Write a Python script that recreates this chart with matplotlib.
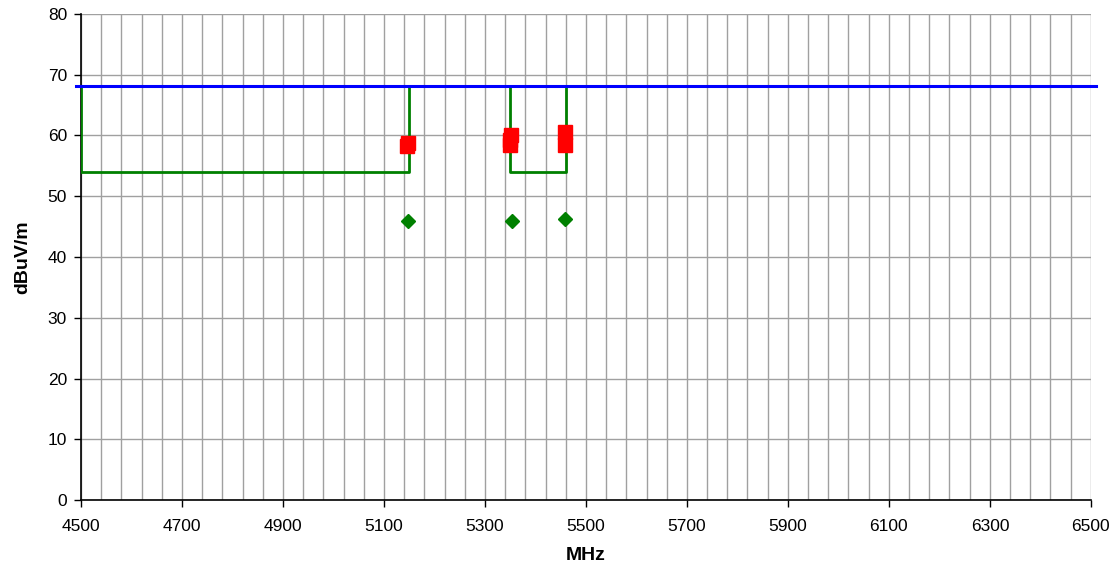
import numpy as np
import matplotlib.pyplot as plt

plt.rcParams['font.family'] = ['Liberation Sans', 'DejaVu Sans']

# limit line
limit_freq = [4490, 6510]
limit_level = [68.2, 68.2]

# restricted band mask (NaN breaks the trace)
mask_freq = [4500, 4500, 5150, 5150, np.nan, 5350, 5350, 5460, 5460]
mask_level = [68.2, 54.0, 54.0, 68.2, np.nan, 68.2, 54.0, 54.0, 68.2]

# peak readings
peak_freq = [5146, 5147, 5350, 5350, 5351, 5458, 5458]
peak_level = [58.3, 58.8, 58.4, 59.2, 60.0, 58.5, 60.6]

# average readings
avg_freq = [5147, 5353, 5458]
avg_level = [45.9, 45.9, 46.2]

fig = plt.figure(figsize=(11.12, 5.71), dpi=100)
ax = fig.add_axes([0.0728, 0.1243, 0.9082, 0.8512])

ax.plot(mask_freq, mask_level, color='#008000', lw=2, zorder=3)
ax.plot(limit_freq, limit_level, color='#0000ff', lw=2.2, zorder=4, clip_on=False)
ax.plot(peak_freq, peak_level, 's', color='#ff0000', ms=10.5, zorder=5, ls='none')
ax.plot(avg_freq, avg_level, 'D', color='#008000', ms=7.5, zorder=5, ls='none')

ax.set_xlim(4500, 6500)
ax.set_ylim(0, 80)
ax.set_xticks(np.arange(4500, 6501, 200))
ax.set_xticks(np.arange(4500, 6501, 40), minor=True)
ax.set_yticks(np.arange(0, 81, 10))
ax.grid(True, which='both', axis='x', color='#a0a0a0', lw=1)
ax.grid(True, which='major', axis='y', color='#a0a0a0', lw=1)
ax.tick_params(axis='x', which='minor', length=0)
ax.tick_params(which='major', direction='out', length=5, width=1, labelsize=12.5, color='black')
ax.tick_params(axis='x', which='major', pad=9)
ax.tick_params(axis='y', which='major', pad=5)
ax.set_axisbelow(True)

for s in ['top', 'right']:
    ax.spines[s].set_visible(False)
for s in ['left', 'bottom']:
    ax.spines[s].set_color('black')
    ax.spines[s].set_linewidth(1.2)

ax.set_xlabel('MHz', fontsize=14, fontweight='bold', labelpad=9)
ax.set_ylabel('dBuV/m', fontsize=14, fontweight='bold', labelpad=12)

fig.savefig('out.png', dpi=100)
